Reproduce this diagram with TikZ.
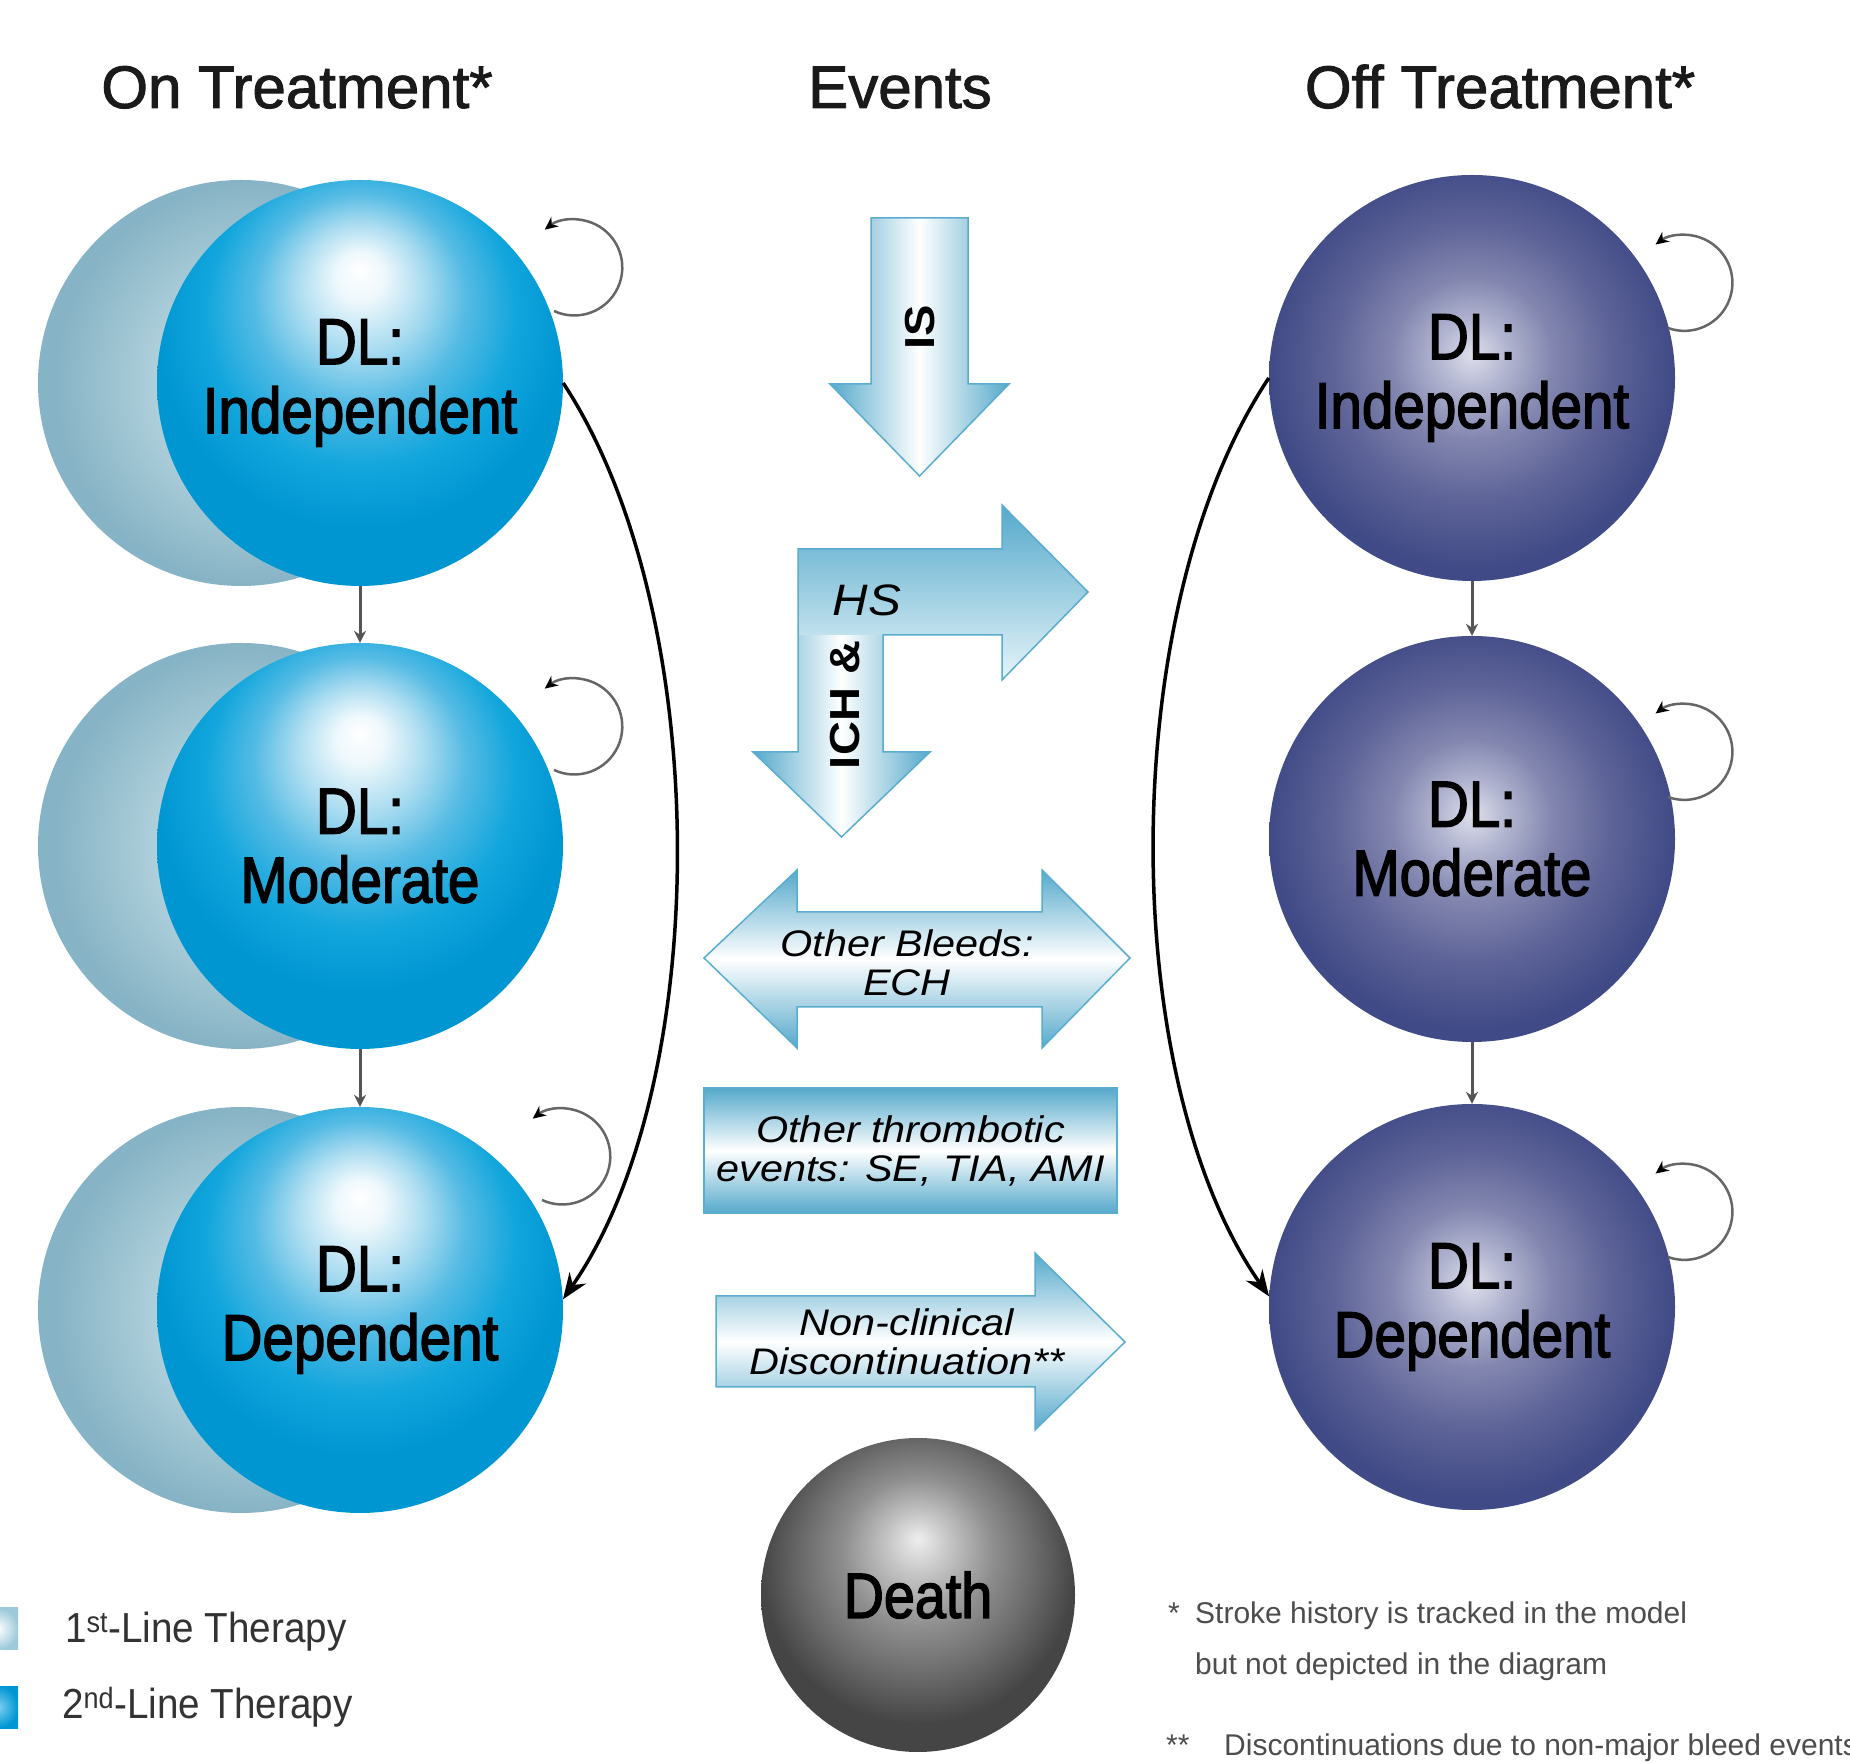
\documentclass[tikz,border=0pt]{standalone}
\usepackage{fontspec}
\setmainfont{Liberation Sans}
\newfontfamily\titlefont[FakeBold=1.6]{Liberation Sans}
\newfontfamily\circfont[FakeStretch=0.87,FakeBold=2.2]{Liberation Sans}
\newfontfamily\legfont[FakeStretch=0.92]{Liberation Sans}
\newfontfamily\evfont[FakeStretch=1.12]{Liberation Sans}
\usetikzlibrary{arrows.meta,calc}

\definecolor{titlecol}{HTML}{1A1A1A}
\definecolor{bbA}{HTML}{EEF8FC}
\definecolor{bbB}{HTML}{A8DBF0}
\definecolor{bbC}{HTML}{55BBE4}
\definecolor{bbD}{HTML}{12A6DD}
\definecolor{bbE}{HTML}{0096D2}
\definecolor{bkA}{HTML}{D6E9EF}
\definecolor{bkB}{HTML}{BAD8E1}
\definecolor{bkC}{HTML}{86B3C5}
\definecolor{puA}{HTML}{DEDFEC}
\definecolor{puB}{HTML}{B5B8D2}
\definecolor{puC}{HTML}{8286AF}
\definecolor{puD}{HTML}{5E6498}
\definecolor{puE}{HTML}{404A86}
\definecolor{gyA}{HTML}{EEEEEE}
\definecolor{gyB}{HTML}{C4C4C4}
\definecolor{gyC}{HTML}{8E8E8E}
\definecolor{gyD}{HTML}{686868}
\definecolor{gyE}{HTML}{454545}
\definecolor{aDark}{HTML}{55A9CB}
\definecolor{aEdge}{HTML}{5AADCE}
\definecolor{aLight}{HTML}{E6F4F9}
\definecolor{loopgray}{HTML}{666666}
\definecolor{downgray}{HTML}{555555}
\definecolor{legcol}{HTML}{333333}
\definecolor{footcol}{HTML}{4D4D4D}
\definecolor{sqA}{HTML}{9DCADB}
\definecolor{sqB}{HTML}{7FD0F0}
\definecolor{sqC}{HTML}{0096D4}

\pgfdeclareradialshading{blueball}{\pgfpoint{0bp}{14bp}}{color(0bp)=(white); color(3bp)=(bbA); color(8bp)=(bbB); color(13bp)=(bbC); color(19bp)=(bbD); color(25bp)=(bbE); color(50bp)=(bbE)}
\pgfdeclareradialshading{backshade}{\pgfpoint{4bp}{0bp}}{color(0bp)=(bkA); color(10bp)=(bkB); color(25bp)=(bkC); color(50bp)=(bkC)}
\pgfdeclareradialshading{purpleshade}{\pgfpoint{0bp}{3bp}}{color(0bp)=(puA); color(4bp)=(puB); color(10bp)=(puC); color(17bp)=(puD); color(25bp)=(puE); color(50bp)=(puE)}
\pgfdeclareradialshading{greyshade}{\pgfpoint{0bp}{9bp}}{color(0bp)=(gyA); color(5bp)=(gyB); color(12bp)=(gyC); color(19bp)=(gyD); color(25bp)=(gyE); color(50bp)=(gyE)}

\begin{document}
\begin{tikzpicture}[x=1pt,y=1pt,
  titletext/.style={inner sep=0pt, text=titlecol, font={\titlefont\fontsize{60}{72}\selectfont}},
  ballbase/.style={circle, minimum size=406pt, inner sep=0pt, align=center, text=black,
     font={\circfont\fontsize{65}{69}\selectfont}},
  frontball/.style={ballbase, shading=blueball},
  backball/.style={ballbase, shading=backshade},
  purpleball/.style={ballbase, shading=purpleshade},
  deathball/.style={ballbase, minimum size=314pt, shading=greyshade},
  loopline/.style={draw=loopgray, line width=2.5pt, -{Stealth[length=13pt,width=12pt,black]}},
  downline/.style={draw=downgray, line width=3pt, -{Stealth[length=12pt,width=12pt]}},
  longline/.style={draw=black, line width=3.5pt, -{Stealth[length=26pt,width=20pt]}},
  evfill/.style={draw=aEdge, line width=1.5pt},
  evital/.style={inner sep=0pt, align=center, text=black, font={\evfont\itshape\fontsize{37}{39}\selectfont}},
  evup/.style={inner sep=0pt, text=black, font={\evfont\bfseries\fontsize{42}{50}\selectfont}},
  legtext/.style={inner sep=0pt, text=legcol, font={\legfont\fontsize{42}{48}\selectfont}},
  foottext/.style={inner sep=0pt, text=footcol, font={\fontsize{30}{36}\selectfont}}
]
\useasboundingbox (0,0) rectangle (1850,1762);
\clip (0,0) rectangle (1850,1762);
\fill[white] (0,0) rectangle (1850,1762);

% titles
\node[titletext, anchor=base] (tOn) at (297,1654) {On Treatment*};
\node[titletext, anchor=base] (tEv) at (900,1654) {Events};
\node[titletext, anchor=base] (tOff) at (1500,1654) {Off Treatment*};

% on-treatment circles
\node[backball] (B1) at (241,1379) {};
\node[backball] (B2) at (241,916) {};
\node[backball] (B3) at (241,452) {};
\node[frontball] (L1) at (360,1379) {DL:\\Independent};
\node[frontball] (L2) at (360,916) {DL:\\Moderate};
\node[frontball] (L3) at (360,452) {DL:\\Dependent};

% off-treatment circles
\node[purpleball] (R1) at (1472,1384) {DL:\\Independent};
\node[purpleball] (R2) at (1472,923) {DL:\\Moderate};
\node[purpleball] (R3) at (1472,455) {DL:\\Dependent};

% death
\node[deathball, font={\circfont\fontsize{64}{69}\selectfont}] (D) at (918,167) {Death};

% self loops
\draw[loopline] ($(L1)+(194,72)$) arc[start angle=245,end angle=488,radius=48];
\draw[loopline] ($(L2)+(194,76)$) arc[start angle=245,end angle=488,radius=48];
\draw[loopline] ($(L3)+(182,110)$) arc[start angle=245,end angle=488,radius=48];
\draw[loopline] ($(R1)+(196,50)$) arc[start angle=250,end angle=487,radius=48];
\draw[loopline] ($(R2)+(196,42)$) arc[start angle=250,end angle=487,radius=48];
\draw[loopline] ($(R3)+(196,50)$) arc[start angle=250,end angle=487,radius=48];

% down arrows
\draw[downline] (L1.south) -- (L2.north);
\draw[downline] (L2.south) -- (L3.north);
\draw[downline] (R1.south) -- (R2.north);
\draw[downline] (R2.south) -- (R3.north);

% long curved arrows
\draw[longline] (L1.east) .. controls (714,1150) and (714,680) .. (L3.3);
\draw[longline] (R1.west) .. controls (1116,1155) and (1116,685) .. (R3.177);

% IS arrow
\path[evfill, left color=aDark, right color=aDark, middle color=white]
  (871,1544) -- (968,1544) -- (968,1378) -- (1009,1378) -- (919.5,1286) -- (830,1378) -- (871,1378) -- cycle;
\node[evup, rotate=90] (tIS) at (920,1435) {IS};

% bent HS / ICH arrow
\fill[left color=aDark, right color=aDark, middle color=white]
  (798,1130) -- (883,1130) -- (883,1010) -- (930,1010) -- (841.5,925) -- (753,1010) -- (798,1010) -- cycle;
\fill[top color=aDark, bottom color=aLight]
  (798,1213) -- (1002,1213) -- (1002,1257) -- (1088,1170) -- (1002,1082) -- (1002,1127) -- (798,1127) -- cycle;
\draw[aEdge, line width=1.5pt]
  (798,1213) -- (1002,1213) -- (1002,1257) -- (1088,1170) -- (1002,1082) -- (1002,1127) -- (883,1127)
  -- (883,1010) -- (930,1010) -- (841.5,925) -- (753,1010) -- (798,1010) -- cycle;
\node[evital, font={\evfont\itshape\fontsize{44}{50}\selectfont}] (tHS) at (867,1162) {HS};
\node[evup, rotate=90] (tICH) at (845,1057) {ICH \&};

% other bleeds double arrow
\path[evfill, top color=aDark, bottom color=aDark, middle color=white]
  (704,804) -- (797,892) -- (797,850) -- (1042,850) -- (1042,892) -- (1130,804)
  -- (1042,714) -- (1042,755) -- (797,755) -- (797,714) -- cycle;
\node[evital] (tOB) at (907,799) {Other Bleeds:\\ECH};

% other thrombotic events box
\node[evital, draw=aEdge, line width=1.5pt, minimum width=413pt, minimum height=125pt,
      top color=aDark, bottom color=aDark, middle color=white] (tOT) at (910.5,611.5)
      {Other thrombotic\\events: SE, TIA, AMI};

% non-clinical discontinuation arrow
\path[evfill, top color=aDark, bottom color=aDark, middle color=white]
  (716,466) -- (1035,466) -- (1035,509) -- (1125,420) -- (1035,332) -- (1035,375) -- (716,375) -- cycle;
\node[evital] (tNC) at (907,420) {Non-clinical\\Discontinuation**};

% legend
\path[inner color=white, outer color=sqA] (-22,112) rectangle (18,154);
\path[inner color=sqB, outer color=sqC] (-22,34) rectangle (18,76);
\node[legtext, anchor=base west] (lg1) at (65,120) {1\textsuperscript{st}-Line Therapy};
\node[legtext, anchor=base west] (lg2) at (62,44) {2\textsuperscript{nd}-Line Therapy};

% footnotes
\node[foottext, anchor=base west] (fs1) at (1168,138) {*};
\node[foottext, anchor=base west] (ft1) at (1195,138) {Stroke history is tracked in the model};
\node[foottext, anchor=base west] (ft2) at (1195,88) {but not depicted in the diagram};
\node[foottext, anchor=base west] (fs2) at (1166,7) {**};
\node[foottext, anchor=base west] (ft3) at (1224,7) {Discontinuations due to non-major bleed events};
\end{tikzpicture}
\end{document}
